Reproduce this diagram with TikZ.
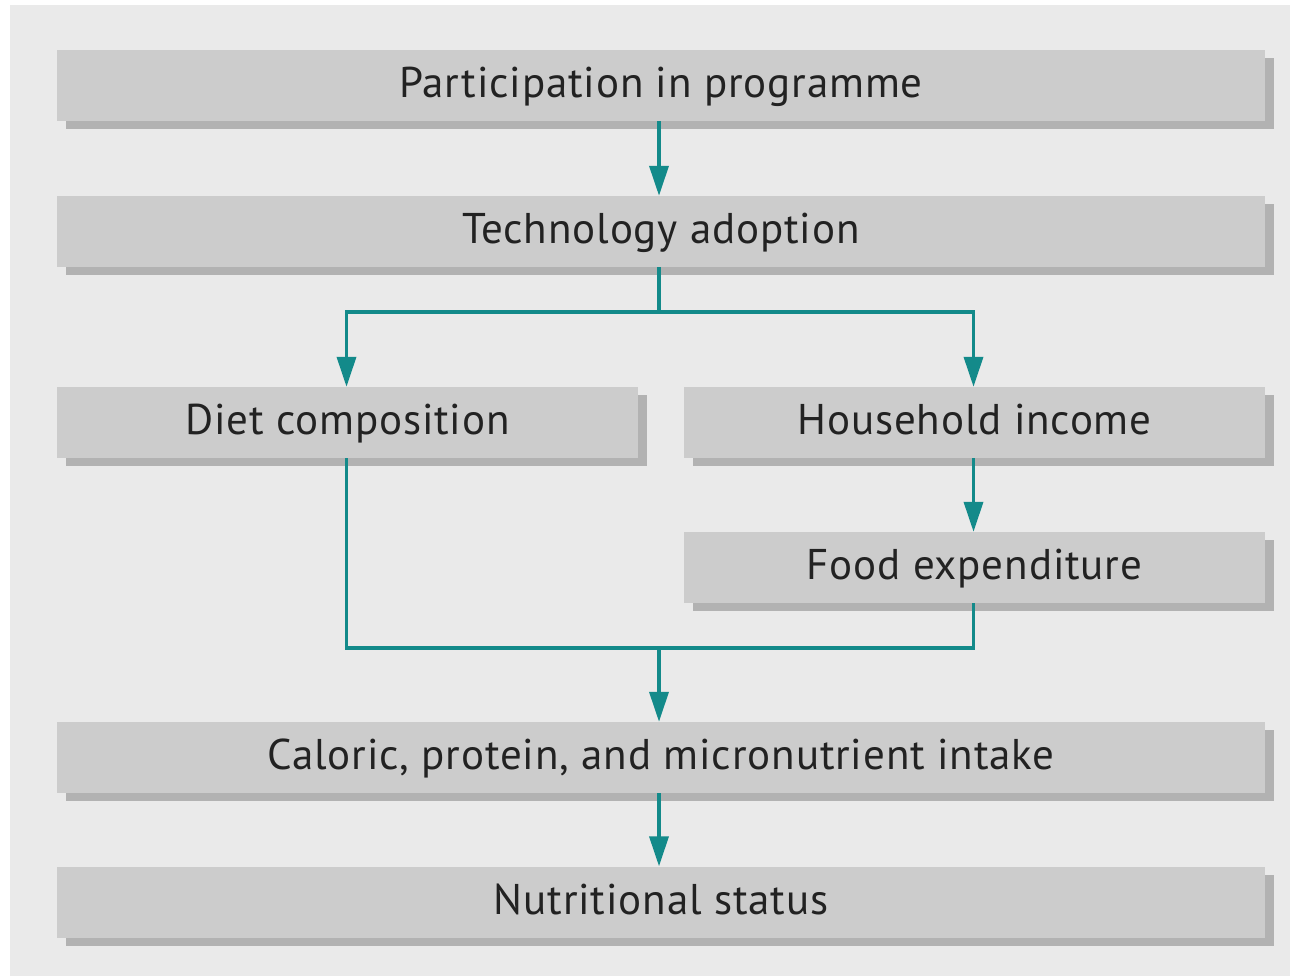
\documentclass[tikz,border=0pt]{standalone}
\usepackage{fontspec}
\setmainfont{PT Sans}[LetterSpace=2]
\usetikzlibrary{arrows.meta,shadows}
\definecolor{panel}{HTML}{EAEAEA}
\definecolor{boxfill}{HTML}{CCCCCC}
\definecolor{shade}{HTML}{B2B2B2}
\definecolor{teal}{HTML}{138A8A}
\definecolor{txt}{HTML}{222222}
\tikzset{
  flowbox/.style={rectangle, fill=boxfill, minimum height=71pt, inner sep=0pt,
    text=txt, font=\fontsize{43}{48}\selectfont, text height=31pt, text depth=7pt,
    drop shadow={shadow xshift=9pt, shadow yshift=-8pt, fill=shade, opacity=1}},
  wide/.style={flowbox, minimum width=1208pt},
  half/.style={flowbox, minimum width=581pt},
  link/.style={draw=teal, line width=3.6pt},
  arr/.style={link, -{Triangle[width=19pt,length=30pt]}},
}
\begin{document}
\begin{tikzpicture}[x=1pt,y=-1pt]
\useasboundingbox (0,0) rectangle (1293,977);
\fill[white] (0,0) rectangle (1293,977);
\fill[panel] (10,5) rectangle (1290,976);
\node[wide] (part) at (661,85.5) {Participation in programme};
\node[wide] (tech) at (661,231.5) {Technology adoption};
\node[half] (diet) at (347.5,422.5) {Diet composition};
\node[half] (house) at (974.5,422.5) {Household income};
\node[half] (food) at (974.5,567.5) {Food expenditure};
\node[wide] (cal) at (661,757.5) {Caloric, protein, and micronutrient intake};
\node[wide] (nut) at (661,902) {Nutritional status};
\coordinate (split) at (659,312);
\coordinate (merge) at (659,648);
\draw[arr] (part.south -| split) -- (tech.north -| split);
\draw[link] (tech.south -| split) -- (split);
\draw[arr] (split) -| ([xshift=-1pt]diet.north);
\draw[arr] (split) -| ([xshift=-1pt]house.north);
\draw[arr] ([xshift=-1pt]house.south) -- ([xshift=-1pt]food.north);
\draw[link] ([xshift=-1pt]diet.south) |- (merge) -| ([xshift=-1pt]food.south);
\draw[arr] (merge) -- (cal.north -| merge);
\draw[arr] (cal.south -| merge) -- (nut.north -| merge);
\end{tikzpicture}
\end{document}
